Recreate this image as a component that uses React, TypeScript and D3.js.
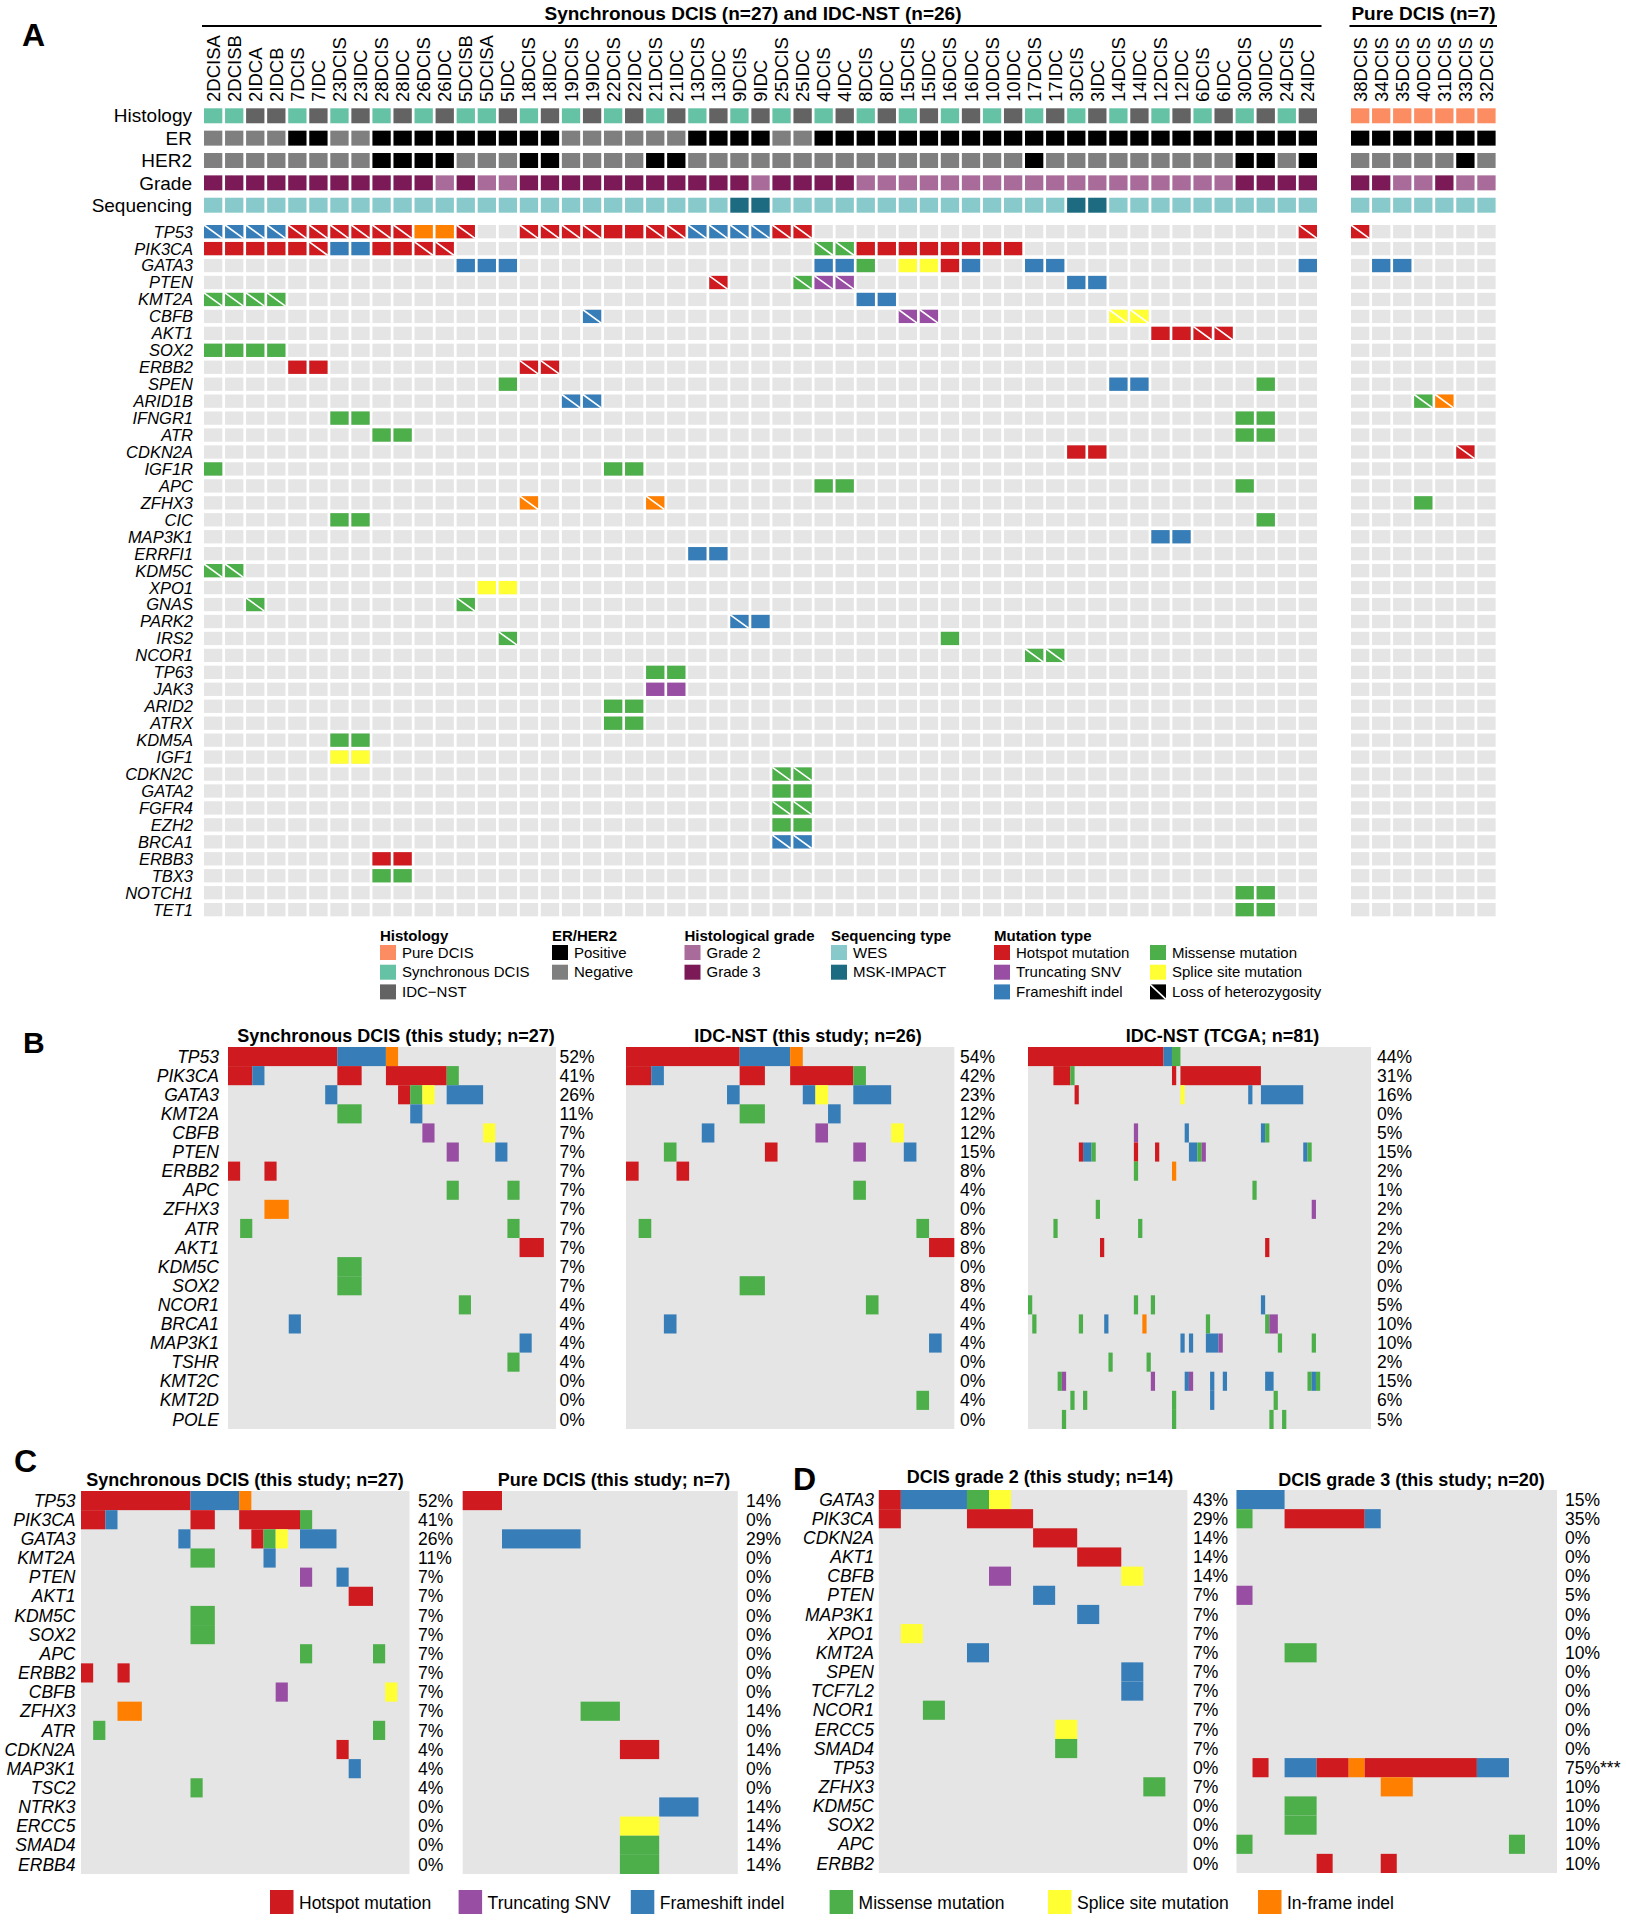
import React, { useEffect, useRef } from 'react';
import * as d3 from 'd3';

const FONT = "'Liberation Sans', Arial, Helvetica, sans-serif";

// ---------- Panel A: samples and clinical tracks ----------
const syncSamples = [
  "2DCISA", "2DCISB", "2IDCA", "2IDCB", "7DCIS", "7IDC", "23DCIS", "23IDC", "28DCIS", "28IDC",
  "26DCIS", "26IDC", "5DCISB", "5DCISA", "5IDC", "18DCIS", "18IDC", "19DCIS", "19IDC", "22DCIS",
  "22IDC", "21DCIS", "21IDC", "13DCIS", "13IDC", "9DCIS", "9IDC", "25DCIS", "25IDC", "4DCIS",
  "4IDC", "8DCIS", "8IDC", "15DCIS", "15IDC", "16DCIS", "16IDC", "10DCIS", "10IDC", "17DCIS",
  "17IDC", "3DCIS", "3IDC", "14DCIS", "14IDC", "12DCIS", "12IDC", "6DCIS", "6IDC", "30DCIS",
  "30IDC", "24DCIS", "24IDC",
];
const pureSamples = ["38DCIS", "34DCIS", "35DCIS", "40DCIS", "31DCIS", "33DCIS", "32DCIS"];

const annotationRows = ["Histology", "ER", "HER2", "Grade", "Sequencing"];

// one character per sample, "|" every ten samples for readability
const histologySync = "SSIISISISI|SISSISISIS|ISISISISIS|ISISISISIS|ISISISISIS|ISI";
const erSync = "NNNNPPNNPP|PPPPPPPNNN|NNNPPPPNNP|PPPPPPPPPP|PPPPPPPPPP|PPP";
const her2Sync = "NNNNNNNNPP|PPNNNPPNNN|NPPNNNNNNN|NNNNNNNNNP|NNNNNNNNNP|PNP";
const gradeSync = "3333333333|3232233333|3333332333|3222222222|2222222223|333";
const seqSync = "WWWWWWWWWW|WWWWWWWWWW|WWWWWMMWWW|WWWWWWWWWW|WMMWWWWWWW|WWW";

const histologyPure = "PPPPPPP";
const erPure = "PPPPPPP";
const her2Pure = "NNNNNPN";
const gradePure = "3322322";
const seqPure = "WWWWWWW";

const genesA = [
  "TP53", "PIK3CA", "GATA3", "PTEN", "KMT2A", "CBFB", "AKT1", "SOX2", "ERBB2", "SPEN",
  "ARID1B", "IFNGR1", "ATR", "CDKN2A", "IGF1R", "APC", "ZFHX3", "CIC", "MAP3K1", "ERRFI1",
  "KDM5C", "XPO1", "GNAS", "PARK2", "IRS2", "NCOR1", "TP63", "JAK3", "ARID2", "ATRX",
  "KDM5A", "IGF1", "CDKN2C", "GATA2", "FGFR4", "EZH2", "BRCA1", "ERBB3", "TBX3", "NOTCH1", "TET1",
];

// type:sampleIndex(-range); lower case = with loss of heterozygosity
// H hotspot, T truncating SNV, F frameshift, M missense, S splice site, I in-frame indel
const mutSyncA: Record<string, string> = {
  TP53: "f:0-3 h:4-9 I:10-11 h:12 h:15-18 H:19-20 h:21-22 f:23-26 h:27-28 h:52",
  PIK3CA: "H:0-4 h:5 F:6-7 H:8-9 h:10-11 m:29-30 H:31-38",
  GATA3: "F:12-14 F:29-30 M:31 S:33-34 H:35 F:36 F:39-40 F:52",
  PTEN: "h:24 m:28 t:29-30 F:41-42",
  KMT2A: "m:0-3 F:31-32",
  CBFB: "f:18 t:33-34 s:43-44",
  AKT1: "H:45-46 h:47-48",
  SOX2: "M:0-3",
  ERBB2: "H:4-5 h:15-16",
  SPEN: "M:14 F:43-44 M:50",
  ARID1B: "f:17-18",
  IFNGR1: "M:6-7 M:49-50",
  ATR: "M:8-9 M:49-50",
  CDKN2A: "H:41-42",
  IGF1R: "M:0 M:19-20",
  APC: "M:29-30 M:49",
  ZFHX3: "i:15 i:21",
  CIC: "M:6-7 M:50",
  MAP3K1: "F:45-46",
  ERRFI1: "F:23-24",
  KDM5C: "m:0-1",
  XPO1: "S:13-14",
  GNAS: "m:2 m:12",
  PARK2: "f:25 F:26",
  IRS2: "m:14 M:35",
  NCOR1: "m:39-40",
  TP63: "M:21-22",
  JAK3: "T:21-22",
  ARID2: "M:19-20",
  ATRX: "M:19-20",
  KDM5A: "M:6-7",
  IGF1: "S:6-7",
  CDKN2C: "m:27-28",
  GATA2: "M:27-28",
  FGFR4: "m:27-28",
  EZH2: "M:27-28",
  BRCA1: "f:27-28",
  ERBB3: "H:8-9",
  TBX3: "M:8-9",
  NOTCH1: "M:49-50",
  TET1: "M:49-50",
};
const mutPureA: Record<string, string> = {
  TP53: "h:0",
  GATA3: "F:1-2",
  ARID1B: "m:3 i:4",
  CDKN2A: "h:5",
  ZFHX3: "M:3",
};

// ---------- Panel B ----------
const genesB = [
  "TP53", "PIK3CA", "GATA3", "KMT2A", "CBFB", "PTEN", "ERBB2", "APC", "ZFHX3", "ATR",
  "AKT1", "KDM5C", "SOX2", "NCOR1", "BRCA1", "MAP3K1", "TSHR", "KMT2C", "KMT2D", "POLE",
];
const mutBDcis: Record<string, string> = {
  TP53: "H:0-8 F:9-12 I:13", PIK3CA: "H:0-1 F:2 H:9-10 H:13-17 M:18",
  GATA3: "F:8 H:14 M:15 S:16 F:18-20", KMT2A: "M:9-10 F:15", CBFB: "T:16 S:21",
  PTEN: "T:18 F:22", ERBB2: "H:0 H:3", APC: "M:18 M:23", ZFHX3: "I:3-4", ATR: "M:1 M:23",
  AKT1: "H:24-25", KDM5C: "M:9-10", SOX2: "M:9-10", NCOR1: "M:19", BRCA1: "F:5",
  MAP3K1: "F:24", TSHR: "M:23",
};
const pctBDcis = ["52%", "41%", "26%", "11%", "7%", "7%", "7%", "7%", "7%", "7%", "7%", "7%", "7%", "4%", "4%", "4%", "4%", "0%", "0%", "0%"];

const mutBIdc: Record<string, string> = {
  TP53: "H:0-8 F:9-12 I:13", PIK3CA: "H:0-1 F:2 H:9-10 H:13-17 M:18",
  GATA3: "F:8 F:14 S:15 F:18-20", KMT2A: "M:9-10 F:16", CBFB: "F:6 T:15 S:21",
  PTEN: "M:3 H:11 T:18 F:22", ERBB2: "H:0 H:4", APC: "M:18", ATR: "M:1 M:23",
  AKT1: "H:24-25", SOX2: "M:9-10", NCOR1: "M:19", BRCA1: "F:3", MAP3K1: "F:24", KMT2D: "M:23",
};
const pctBIdc = ["54%", "42%", "23%", "12%", "12%", "15%", "8%", "4%", "0%", "8%", "8%", "0%", "8%", "4%", "4%", "4%", "0%", "0%", "4%", "0%"];

const mutBTcga: Record<string, string> = {
  TP53: "H:0-31 F:32-33 M:34-35",
  PIK3CA: "H:6-9 M:10 H:34 H:36-54",
  GATA3: "H:11 S:36 F:52 F:55-64",
  CBFB: "T:25 F:37 F:55 M:56",
  PTEN: "H:12 F:13-14 M:15 H:25 H:30 F:38-39 M:40 T:41 F:65 M:66",
  ERBB2: "M:25 I:34",
  APC: "M:53",
  ZFHX3: "M:16 T:67",
  ATR: "M:6 M:26",
  AKT1: "H:17 H:56",
  NCOR1: "M:0 M:25 M:29 F:55",
  BRCA1: "M:1 M:12 F:18 I:27 M:42 M:56 T:57-58",
  MAP3K1: "F:36 F:38 F:42-44 T:45 M:59 M:67",
  TSHR: "M:19 M:28",
  KMT2C: "M:7 T:8 T:29 F:37 T:38 F:43 F:46 F:56-57 M:66 F:67 M:68",
  KMT2D: "M:10 M:13 M:34 F:43 M:58",
  POLE: "M:8 M:34 M:57 M:60",
};
const pctBTcga = ["44%", "31%", "16%", "0%", "5%", "15%", "2%", "1%", "2%", "2%", "2%", "0%", "0%", "5%", "10%", "10%", "2%", "15%", "6%", "5%"];

// ---------- Panel C ----------
const genesC = [
  "TP53", "PIK3CA", "GATA3", "KMT2A", "PTEN", "AKT1", "KDM5C", "SOX2", "APC", "ERBB2",
  "CBFB", "ZFHX3", "ATR", "CDKN2A", "MAP3K1", "TSC2", "NTRK3", "ERCC5", "SMAD4", "ERBB4",
];
const mutCSync: Record<string, string> = {
  TP53: "H:0-8 F:9-12 I:13", PIK3CA: "H:0-1 F:2 H:9-10 H:13-17 M:18",
  GATA3: "F:8 H:14 M:15 S:16 F:18-20", KMT2A: "M:9-10 F:15", PTEN: "T:18 F:21",
  AKT1: "H:22-23", KDM5C: "M:9-10", SOX2: "M:9-10", APC: "M:18 M:24", ERBB2: "H:0 H:3",
  CBFB: "T:16 S:25", ZFHX3: "I:3-4", ATR: "M:1 M:24", CDKN2A: "H:21", MAP3K1: "F:22", TSC2: "M:9",
};
const pctCSync = ["52%", "41%", "26%", "11%", "7%", "7%", "7%", "7%", "7%", "7%", "7%", "7%", "7%", "4%", "4%", "4%", "0%", "0%", "0%", "0%"];
const mutCPure: Record<string, string> = {
  TP53: "H:0", GATA3: "F:1-2", ZFHX3: "M:3", CDKN2A: "H:4", NTRK3: "F:5", ERCC5: "S:4", SMAD4: "M:4", ERBB4: "M:4",
};
const pctCPure = ["14%", "0%", "29%", "0%", "0%", "0%", "0%", "0%", "0%", "0%", "0%", "14%", "0%", "14%", "0%", "0%", "14%", "14%", "14%", "14%"];

// ---------- Panel D ----------
const genesD = [
  "GATA3", "PIK3CA", "CDKN2A", "AKT1", "CBFB", "PTEN", "MAP3K1", "XPO1", "KMT2A", "SPEN",
  "TCF7L2", "NCOR1", "ERCC5", "SMAD4", "TP53", "ZFHX3", "KDM5C", "SOX2", "APC", "ERBB2",
];
const mutDG2: Record<string, string> = {
  GATA3: "H:0 F:1-3 M:4 S:5", PIK3CA: "H:0 H:4-6", CDKN2A: "H:7-8", AKT1: "H:9-10",
  CBFB: "T:5 S:11", PTEN: "F:7", MAP3K1: "F:9", XPO1: "S:1", KMT2A: "F:4", SPEN: "F:11",
  TCF7L2: "F:11", NCOR1: "M:2", ERCC5: "S:8", SMAD4: "M:8", ZFHX3: "M:12",
};
const pctDG2 = ["43%", "29%", "14%", "14%", "14%", "7%", "7%", "7%", "7%", "7%", "7%", "7%", "7%", "7%", "0%", "7%", "0%", "0%", "0%", "0%"];
const mutDG3: Record<string, string> = {
  GATA3: "F:0-2", PIK3CA: "M:0 H:3-7 F:8", PTEN: "T:0", KMT2A: "M:3-4",
  TP53: "H:1 F:3-4 H:5-6 I:7 H:8-14 F:15-16", ZFHX3: "I:9-10", KDM5C: "M:3-4",
  SOX2: "M:3-4", APC: "M:0 M:17", ERBB2: "H:5 H:9",
};
const pctDG3 = ["15%", "35%", "0%", "0%", "0%", "5%", "0%", "0%", "10%", "0%", "0%", "0%", "0%", "0%", "75%***", "10%", "10%", "10%", "10%", "10%"];

const mutLegend = [
  ["H", "Hotspot mutation"], ["T", "Truncating SNV"], ["F", "Frameshift indel"],
  ["M", "Missense mutation"], ["S", "Splice site mutation"], ["I", "In-frame indel"],
];

// ---------- styling ----------
const GRID_BG = "#e5e5e5";
const MUT_COLOR: Record<string, string> = {
  H: "#cf1a1f", T: "#984ea3", F: "#377eb8", M: "#4daf4a", S: "#ffff33", I: "#ff7f00",
};
const ANNO_COLOR: Record<string, Record<string, string>> = {
  Histology: { P: "#fc8d62", S: "#66c2a5", I: "#636363" },
  ER: { P: "#000000", N: "#7f7f7f" },
  HER2: { P: "#000000", N: "#7f7f7f" },
  Grade: { "2": "#a86b9a", "3": "#7b1a57" },
  Sequencing: { W: "#88cacb", M: "#1d6b80" },
};

type G = d3.Selection<SVGGElement, unknown, null, undefined>;

const chars = (s: string) => s.replace(/\|/g, "").split("");

// runs of consecutive samples with the same alteration
function parseRuns(spec = "") {
  return spec.trim().split(/\s+/).filter(Boolean).map(tok => {
    const [code, range] = tok.split(":");
    const [a, b] = range.split("-").map(Number);
    return { a, b: b ?? a, type: code.toUpperCase(), loh: code !== code.toUpperCase() };
  });
}

function parseCells(spec = "") {
  const out: { i: number; type: string; loh: boolean }[] = [];
  parseRuns(spec).forEach(r => {
    for (let i = r.a; i <= r.b; i++) out.push({ i, type: r.type, loh: r.loh });
  });
  return out;
}

function drawPanelA(g: G) {
  const xSync = d3.scaleBand<number>().domain(d3.range(syncSamples.length)).range([204, 1317]).paddingInner(0.13);
  const xPure = d3.scaleBand<number>().domain(d3.range(pureSamples.length)).range([1351, 1495.6]).paddingInner(0.13);
  const yAnno = d3.scaleBand<string>().domain(annotationRows).range([108.3, 212.7]).paddingInner(0.33);
  const yGene = d3.scaleBand<string>().domain(genesA).range([225, 916.3]).paddingInner(0.215);

  g.append("text").attr("x", 22).attr("y", 46).attr("font-size", 32).attr("font-weight", "bold").text("A");

  // block headers
  [
    { label: "Synchronous DCIS (n=27) and IDC-NST (n=26)", x1: 202, x2: 1321.5, cx: 753 },
    { label: "Pure DCIS (n=7)", x1: 1349.5, x2: 1497, cx: 1423.5 },
  ].forEach(h => {
    g.append("text").attr("x", h.cx).attr("y", 20).attr("text-anchor", "middle")
      .attr("font-size", 19).attr("font-weight", "bold").text(h.label);
    g.append("line").attr("x1", h.x1).attr("x2", h.x2).attr("y1", 26).attr("y2", 26)
      .attr("stroke", "#000").attr("stroke-width", 2);
  });

  // row labels
  annotationRows.forEach(r => {
    g.append("text").attr("x", 192).attr("y", yAnno(r)! + yAnno.bandwidth() / 2).attr("dy", "0.35em")
      .attr("text-anchor", "end").attr("font-size", 19).text(r);
  });
  genesA.forEach(gene => {
    g.append("text").attr("x", 193).attr("y", yGene(gene)! + yGene.bandwidth() / 2).attr("dy", "0.36em")
      .attr("text-anchor", "end").attr("font-size", 16.5).attr("font-style", "italic").text(gene);
  });

  const blocks = [
    { samples: syncSamples, x: xSync, tracks: [histologySync, erSync, her2Sync, gradeSync, seqSync], muts: mutSyncA },
    { samples: pureSamples, x: xPure, tracks: [histologyPure, erPure, her2Pure, gradePure, seqPure], muts: mutPureA },
  ];

  blocks.forEach(b => {
    const bw = b.x.bandwidth();
    b.samples.forEach((s, i) => {
      g.append("text")
        .attr("transform", `translate(${b.x(i)! + bw / 2},102) rotate(-90)`)
        .attr("dy", "0.35em").attr("font-size", 18.5).text(s);
    });

    annotationRows.forEach((row, ri) => {
      chars(b.tracks[ri]).forEach((c, i) => {
        g.append("rect").attr("x", b.x(i)!).attr("y", yAnno(row)!)
          .attr("width", bw).attr("height", yAnno.bandwidth()).attr("fill", ANNO_COLOR[row][c]);
      });
    });

    genesA.forEach(gene => {
      const y = yGene(gene)!;
      const bh = yGene.bandwidth();
      b.samples.forEach((_, i) => {
        g.append("rect").attr("x", b.x(i)!).attr("y", y).attr("width", bw).attr("height", bh).attr("fill", GRID_BG);
      });
      parseCells(b.muts[gene]).forEach(m => {
        const x = b.x(m.i)!;
        g.append("rect").attr("x", x).attr("y", y).attr("width", bw).attr("height", bh).attr("fill", MUT_COLOR[m.type]);
        if (m.loh) {
          g.append("line").attr("x1", x).attr("y1", y).attr("x2", x + bw).attr("y2", y + bh)
            .attr("stroke", "#fff").attr("stroke-width", 1.6);
        }
      });
    });
  });

  // legend
  const legendGroups = [
    { title: "Histology", x: 380, items: [["Pure DCIS", ANNO_COLOR.Histology.P], ["Synchronous DCIS", ANNO_COLOR.Histology.S], ["IDC\u2212NST", ANNO_COLOR.Histology.I]] },
    { title: "ER/HER2", x: 552, items: [["Positive", ANNO_COLOR.ER.P], ["Negative", ANNO_COLOR.ER.N]] },
    { title: "Histological grade", x: 684.5, items: [["Grade 2", ANNO_COLOR.Grade["2"]], ["Grade 3", ANNO_COLOR.Grade["3"]]] },
    { title: "Sequencing type", x: 831, items: [["WES", ANNO_COLOR.Sequencing.W], ["MSK-IMPACT", ANNO_COLOR.Sequencing.M]] },
    { title: "Mutation type", x: 994, items: [["Hotspot mutation", MUT_COLOR.H], ["Truncating SNV", MUT_COLOR.T], ["Frameshift indel", MUT_COLOR.F]] },
    { title: "", x: 1150, items: [["Missense mutation", MUT_COLOR.M], ["Splice site mutation", MUT_COLOR.S], ["Loss of heterozygosity", "LOH"]] },
  ];
  const lg = g.append("g");
  legendGroups.forEach(grp => {
    if (grp.title) {
      lg.append("text").attr("x", grp.x).attr("y", 941).attr("font-size", 15).attr("font-weight", "bold").text(grp.title);
    }
    grp.items.forEach(([label, fill], k) => {
      const y = 945 + k * 19.7;
      lg.append("rect").attr("x", grp.x).attr("y", y).attr("width", 16).attr("height", 15)
        .attr("fill", fill === "LOH" ? "#000" : fill);
      if (fill === "LOH") {
        lg.append("line").attr("x1", grp.x).attr("y1", y).attr("x2", grp.x + 16).attr("y2", y + 15)
          .attr("stroke", "#fff").attr("stroke-width", 1.6);
      }
      lg.append("text").attr("x", grp.x + 22).attr("y", y + 12.5).attr("font-size", 15).text(label);
    });
  });
}

interface OncoCfg {
  genes: string[];
  n: number;
  muts: Record<string, string>;
  pct: string[];
  x: [number, number];
  y: [number, number];
  pctX: number;
  title: string;
  titleX: number;
  titleY: number;
  labelX?: number;
}

function drawOnco(g: G, c: OncoCfg) {
  const x = d3.scaleBand<number>().domain(d3.range(c.n)).range(c.x);
  const y = d3.scaleBand<string>().domain(c.genes).range(c.y);

  g.append("text").attr("x", c.titleX).attr("y", c.titleY).attr("text-anchor", "middle")
    .attr("font-size", 18).attr("font-weight", "bold").text(c.title);

  g.append("rect").attr("x", c.x[0]).attr("y", c.y[0])
    .attr("width", c.x[1] - c.x[0]).attr("height", c.y[1] - c.y[0]).attr("fill", GRID_BG);

  c.genes.forEach((gene, gi) => {
    parseRuns(c.muts[gene]).forEach(r => {
      g.append("rect").attr("x", x(r.a)!).attr("y", y(gene)!)
        .attr("width", x(r.b)! + x.bandwidth() - x(r.a)!).attr("height", y.bandwidth())
        .attr("fill", MUT_COLOR[r.type]);
    });
    const cy = y(gene)! + y.bandwidth() / 2;
    if (c.labelX !== undefined) {
      g.append("text").attr("x", c.labelX).attr("y", cy).attr("dy", "0.35em").attr("text-anchor", "end")
        .attr("font-size", 17.5).attr("font-style", "italic").text(gene);
    }
    g.append("text").attr("x", c.pctX).attr("y", cy).attr("dy", "0.35em")
      .attr("font-size", 17.5).text(c.pct[gi]);
  });
}

function drawLowerPanels(g: G) {
  // B
  g.append("text").attr("x", 23).attr("y", 1053).attr("font-size", 30).attr("font-weight", "bold").text("B");
  drawOnco(g, { genes: genesB, n: 27, muts: mutBDcis, pct: pctBDcis, x: [228, 556], y: [1047, 1429], pctX: 559.5,
    title: "Synchronous DCIS (this study; n=27)", titleX: 396, titleY: 1042, labelX: 219 });
  drawOnco(g, { genes: genesB, n: 26, muts: mutBIdc, pct: pctBIdc, x: [626, 954.3], y: [1047, 1429], pctX: 960,
    title: "IDC-NST (this study; n=26)", titleX: 808, titleY: 1042 });
  drawOnco(g, { genes: genesB, n: 81, muts: mutBTcga, pct: pctBTcga, x: [1028, 1371], y: [1047, 1429], pctX: 1377,
    title: "IDC-NST (TCGA; n=81)", titleX: 1222.5, titleY: 1042 });

  // C
  g.append("text").attr("x", 14).attr("y", 1472).attr("font-size", 32).attr("font-weight", "bold").text("C");
  drawOnco(g, { genes: genesC, n: 27, muts: mutCSync, pct: pctCSync, x: [81, 409.5], y: [1491, 1874], pctX: 418,
    title: "Synchronous DCIS (this study; n=27)", titleX: 245, titleY: 1486, labelX: 75.5 });
  drawOnco(g, { genes: genesC, n: 7, muts: mutCPure, pct: pctCPure, x: [462.7, 737.8], y: [1491, 1874], pctX: 746,
    title: "Pure DCIS (this study; n=7)", titleX: 614, titleY: 1486 });

  // D
  g.append("text").attr("x", 793).attr("y", 1490).attr("font-size", 32).attr("font-weight", "bold").text("D");
  drawOnco(g, { genes: genesD, n: 14, muts: mutDG2, pct: pctDG2, x: [878.8, 1187.4], y: [1490, 1873], pctX: 1193,
    title: "DCIS grade 2 (this study; n=14)", titleX: 1040, titleY: 1483, labelX: 874 });
  drawOnco(g, { genes: genesD, n: 20, muts: mutDG3, pct: pctDG3, x: [1236.5, 1557], y: [1490, 1873], pctX: 1565,
    title: "DCIS grade 3 (this study; n=20)", titleX: 1411.5, titleY: 1486 });

  // shared legend
  const legendX = [270, 458.6, 630.8, 829.6, 1048, 1258];
  mutLegend.forEach(([code, label], k) => {
    g.append("rect").attr("x", legendX[k]).attr("y", 1890).attr("width", 23.5).attr("height", 24).attr("fill", MUT_COLOR[code]);
    g.append("text").attr("x", legendX[k] + 29).attr("y", 1908.5).attr("font-size", 17.5).text(label);
  });
}

export default function App() {
  const svgRef = useRef<SVGSVGElement | null>(null);

  useEffect(() => {
    if (!svgRef.current) return;
    const svg = d3.select(svgRef.current);
    svg.selectAll("*").remove();
    svg.append("rect").attr("width", 1626).attr("height", 1920).attr("fill", "#fff");
    const root = svg.append("g") as unknown as G;
    drawPanelA(root.append("g") as unknown as G);
    drawLowerPanels(root.append("g") as unknown as G);
  }, []);

  return (
    <svg
      ref={svgRef}
      width={1626}
      height={1920}
      viewBox="0 0 1626 1920"
      style={{ position: "absolute", left: 0, top: 0, fontFamily: FONT }}
    />
  );
}
